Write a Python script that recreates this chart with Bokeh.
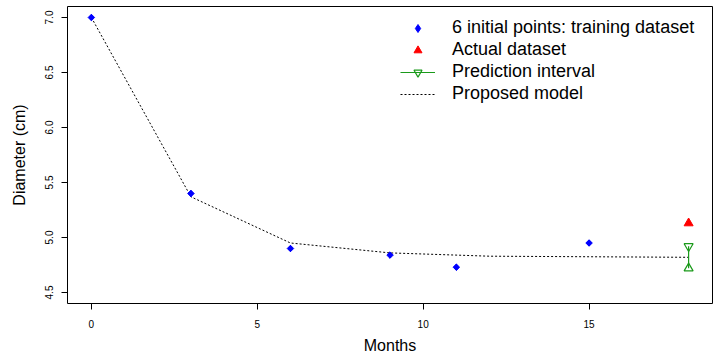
import math
from bokeh.plotting import figure
from bokeh.models import (Legend, LegendItem, FixedTicker, NumeralTickFormatter,
                          Range1d, ColumnDataSource)
from bokeh.embed import file_html
from bokeh.resources import INLINE

# ---- data ----
train_months = [0, 3, 6, 9, 11, 15]
train_diam = [7.00, 5.40, 4.90, 4.84, 4.73, 4.95]

actual_months = [18]
actual_diam = [5.13]

pred_months = [18]
pred_lower = [4.72]
pred_upper = [4.92]

model_months = [0, 3, 6, 9, 12, 15, 18]
model_diam = [7.00, 5.37, 4.95, 4.86, 4.83, 4.825, 4.82]

x_ticks = [0, 5, 10, 15]
y_ticks = [4.5, 5.0, 5.5, 6.0, 6.5, 7.0]

FONT = "Liberation Sans"
GREEN = "#1a9a1a"

p = figure(width=718, height=358, output_backend="svg", toolbar_location=None,
           x_range=Range1d(-0.72, 18.72), y_range=Range1d(4.4, 7.1),
           min_border_left=67, min_border_right=6, min_border_top=6,
           min_border_bottom=55)
p.outline_line_color = "black"
p.outline_line_width = 1
p.grid.visible = False
p.background_fill_color = "white"
p.border_fill_color = "white"

for ax in (p.xaxis[0], p.yaxis[0]):
    ax.axis_line_color = None
    ax.major_tick_in = 0
    ax.major_tick_out = 6
    ax.major_tick_line_color = "black"
    ax.minor_tick_line_color = None
    ax.major_label_text_font = FONT
    ax.major_label_text_font_size = "10px"
    ax.major_label_text_color = "black"
    ax.axis_label_text_font = FONT
    ax.axis_label_text_font_size = "16px"
    ax.axis_label_text_font_style = "normal"
    ax.axis_label_text_color = "black"

p.xaxis.ticker = FixedTicker(ticks=x_ticks)
p.yaxis.ticker = FixedTicker(ticks=y_ticks)
p.yaxis.formatter = NumeralTickFormatter(format="0.0")
p.yaxis.major_label_orientation = "vertical"
p.xaxis.major_label_standoff = 10
p.xaxis.axis_label_standoff = 6
p.yaxis.major_label_standoff = 9
p.yaxis.axis_label_standoff = 14
p.xaxis.axis_label = "Months"
p.yaxis.axis_label = "Diameter (cm)"

model_src = ColumnDataSource(dict(x=model_months, y=model_diam))
train_src = ColumnDataSource(dict(x=train_months, y=train_diam))
actual_src = ColumnDataSource(dict(x=actual_months, y=actual_diam))
pred_src = ColumnDataSource(dict(x=pred_months, lo=pred_lower, hi=pred_upper))

r_model = p.line("x", "y", source=model_src, line_color="black",
                 line_width=1, line_dash="2 2")
# diamond renderer (used as legend key), covered by rotated squares
r_train = p.scatter("x", "y", source=train_src, marker="diamond", size=6,
                    fill_color="#0000ff", line_color="#0000ff")
p.scatter("x", "y", source=train_src, marker="square", size=4.6,
          angle=math.pi / 4, fill_color="#0000ff", line_color="#0000ff")
r_actual = p.scatter("x", "y", source=actual_src, marker="triangle", size=9,
                     fill_color="#ff0000", line_color="#ff0000")
r_seg = p.segment(x0="x", y0="lo", x1="x", y1="hi", source=pred_src,
                  line_color=GREEN, line_width=1.2)
r_top = p.scatter("x", "hi", source=pred_src, marker="inverted_triangle", size=9,
                  fill_color=None, line_color=GREEN, line_width=1.2)
r_bot = p.scatter("x", "lo", source=pred_src, marker="triangle", size=9,
                  fill_color=None, line_color=GREEN, line_width=1.2)

legend = Legend(items=[
    LegendItem(label="6 initial points: training dataset", renderers=[r_train]),
    LegendItem(label="Actual dataset", renderers=[r_actual]),
    LegendItem(label="Prediction interval", renderers=[r_seg, r_top]),
    LegendItem(label="Proposed model", renderers=[r_model]),
], location=(333, 199))
legend.padding = 0
legend.margin = 0
legend.spacing = 1
legend.glyph_width = 35
legend.glyph_height = 20
legend.label_height = 20
legend.label_standoff = 17
legend.label_text_font = FONT
legend.label_text_font_size = "18px"
legend.label_text_color = "black"
legend.border_line_color = None
legend.background_fill_alpha = 0
p.add_layout(legend)

open("out.html", "w").write(file_html(p, INLINE))
